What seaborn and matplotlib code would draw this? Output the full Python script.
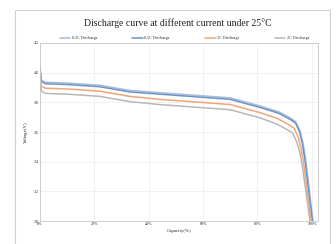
import pandas as pd
import numpy as np
import seaborn as sns
import matplotlib.pyplot as plt
from matplotlib.patches import Rectangle
from matplotlib.ticker import FuncFormatter

sns.set_theme(style='whitegrid')
plt.rcParams['font.family'] = ['Liberation Serif', 'DejaVu Serif']

# discharge curves (capacity % -> voltage V)
cap_02c = [0, 0.5, 2, 10, 22, 33, 44, 59, 70, 81, 88, 92, 94, 95.6, 96.7, 97.6, 98.6, 99.5, 100.4]
volt_02c = [4.04, 3.95, 3.935, 3.93, 3.915, 3.88, 3.865, 3.845, 3.83, 3.775, 3.735, 3.695, 3.67, 3.61, 3.53, 3.43, 3.28, 3.14, 3.0]
cap_05c = [0, 0.5, 2, 10, 22, 33, 44, 59, 70, 81, 88, 92, 94, 95.5, 96.5, 97.4, 98.4, 99.3, 100.2]
volt_05c = [4.03, 3.94, 3.925, 3.92, 3.905, 3.87, 3.855, 3.835, 3.82, 3.765, 3.725, 3.685, 3.66, 3.60, 3.52, 3.42, 3.27, 3.13, 3.0]
cap_1c = [0, 0.5, 2, 10, 22, 33, 44, 59, 70, 81, 87.5, 91.5, 93.5, 95, 96, 96.9, 97.9, 98.8, 99.7]
volt_1c = [4.0, 3.91, 3.895, 3.89, 3.875, 3.84, 3.82, 3.80, 3.785, 3.73, 3.69, 3.65, 3.625, 3.565, 3.49, 3.40, 3.26, 3.13, 3.0]
cap_2c = [0, 0.5, 2, 10, 22, 33, 44, 59, 70, 81, 87, 91, 93, 94.5, 95.6, 96.5, 97.5, 98.4, 99.3]
volt_2c = [3.96, 3.875, 3.86, 3.855, 3.84, 3.805, 3.785, 3.765, 3.75, 3.695, 3.655, 3.615, 3.59, 3.53, 3.46, 3.37, 3.24, 3.12, 3.0]

labels = ['0.2C Discharge', '0.5C Discharge', '1C Discharge', '2C Discharge']
colors = ['#a9bcd6', '#6b93c9', '#f2a677', '#b8b8b8']

frames = []
for lab, c, v in zip(labels, [cap_02c, cap_05c, cap_1c, cap_2c],
                     [volt_02c, volt_05c, volt_1c, volt_2c]):
    frames.append(pd.DataFrame({'Capacity': c, 'Voltage': v, 'Rate': lab}))
df = pd.concat(frames, ignore_index=True)

fig = plt.figure(figsize=(3.36, 2.44), dpi=100)
ax = fig.add_axes([0.119, 0.094, 0.827, 0.730])

sns.lineplot(data=df, x='Capacity', y='Voltage', hue='Rate', palette=colors,
             sort=False, estimator=None, linewidth=1.1, ax=ax)

ax.set_xlim(0, 102.2)
ax.set_ylim(3.0, 4.2)
ax.set_xticks([0, 20, 40, 60, 80, 100])
ax.set_yticks([3.0, 3.2, 3.4, 3.6, 3.8, 4.0, 4.2])
ax.xaxis.set_major_formatter(FuncFormatter(lambda v, p: f'{v:.0f}%'))
ax.yaxis.set_major_formatter(FuncFormatter(lambda v, p: f'{v:.1f}'))
ax.tick_params(labelsize=3, pad=1, length=0)
ax.grid(color='#ececec', linewidth=0.5)
for s in ax.spines.values():
    s.set_color('#c8c8c8')
    s.set_linewidth(0.6)

ax.set_xlabel('Capacity(%)', fontsize=3.5, labelpad=2)
ax.set_ylabel('Voltage(V)', fontsize=3.5, labelpad=4)

handles, labs = ax.get_legend_handles_labels()
ax.legend(handles, labs, loc='lower left', bbox_to_anchor=(0.06, 1.0, 0.92, 0.06),
          mode='expand', ncol=4, frameon=False, fontsize=3, handlelength=2.5,
          handletextpad=0.4, borderaxespad=0.3)

fig.text(0.53, 0.905, 'Discharge curve at different current under 25\u00b0C',
         ha='center', va='center', fontsize=7, color='#222222')

fig.patches.append(Rectangle((15 / 336, -0.05), 315 / 336, 1.05 - 10 / 244,
                             transform=fig.transFigure, fill=False,
                             edgecolor='#d0d0d0', linewidth=0.8))

fig.savefig('out.png', dpi=100)
